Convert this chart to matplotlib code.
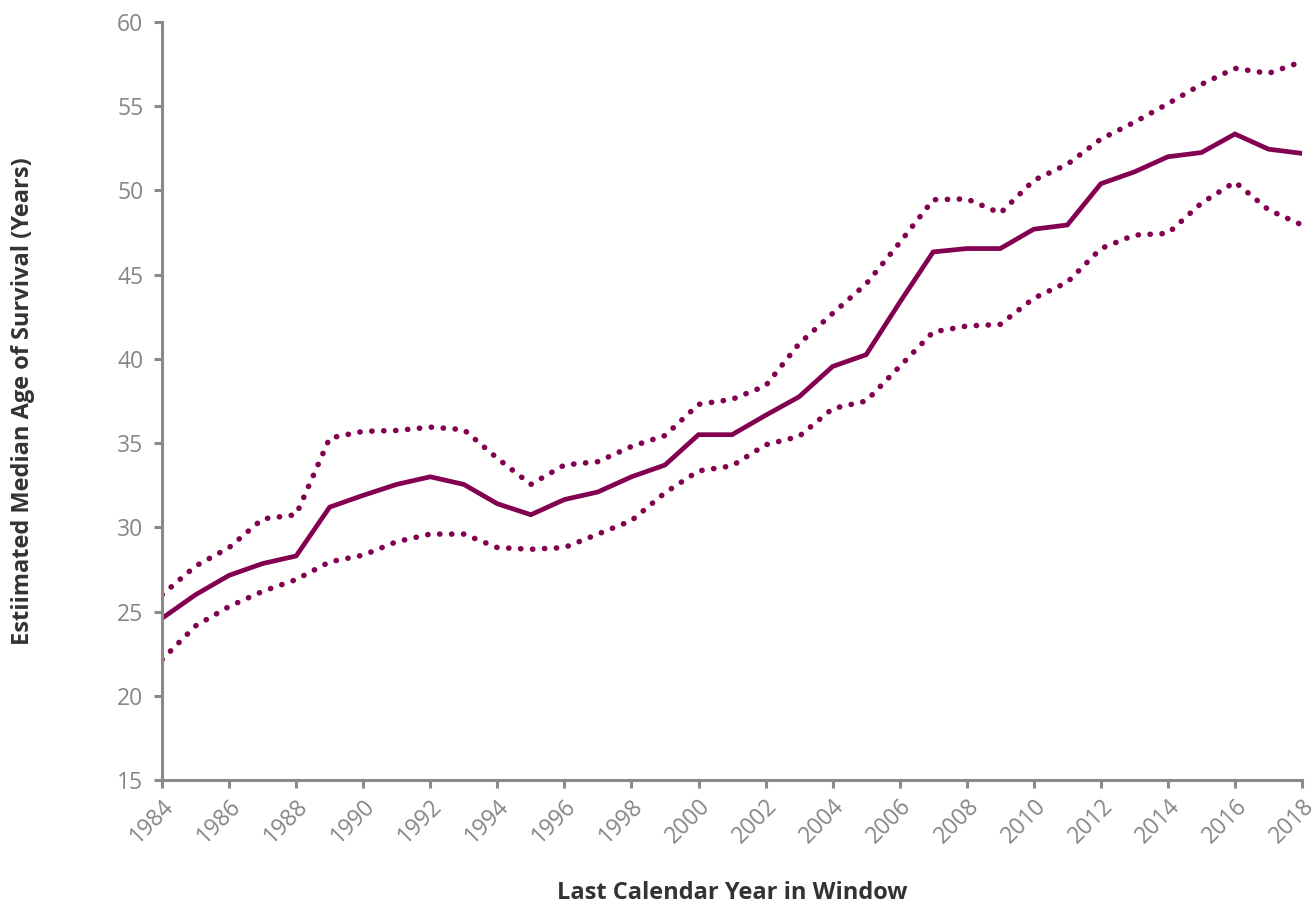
import matplotlib.pyplot as plt

# Data
years = list(range(1984, 2019))
median = [24.6, 26.0, 27.15, 27.85, 28.3, 31.2, 31.9, 32.55, 33.0, 32.55,
          31.4, 30.75, 31.65, 32.1, 33.0, 33.7, 35.5, 35.5, 36.65, 37.75,
          39.55, 40.25, 43.35, 46.35, 46.55, 46.55, 47.7, 47.95, 50.4, 51.1,
          52.0, 52.25, 53.35, 52.45, 52.2]
upper = [26.0, 27.7, 28.8, 30.5, 30.75, 35.3, 35.7, 35.75, 35.95, 35.8,
         34.1, 32.55, 33.7, 33.9, 34.8, 35.45, 37.3, 37.6, 38.4, 40.9,
         42.7, 44.45, 46.9, 49.45, 49.5, 48.65, 50.6, 51.55, 53.05, 54.05,
         55.15, 56.3, 57.25, 56.95, 57.65]
lower = [22.15, 24.15, 25.3, 26.2, 26.9, 27.95, 28.35, 29.15, 29.6, 29.6,
         28.8, 28.7, 28.8, 29.6, 30.4, 32.05, 33.35, 33.65, 34.9, 35.4,
         37.05, 37.5, 39.55, 41.6, 41.95, 42.05, 43.6, 44.55, 46.55, 47.35,
         47.45, 49.25, 50.5, 48.85, 47.95]
xticks = list(range(1984, 2019, 2))
yticks = list(range(15, 61, 5))

color = '#82004F'
grey = '#8a8a8a'
plt.rcParams['font.family'] = ['Open Sans', 'DejaVu Sans']

fig = plt.figure(figsize=(13.12, 9.09), dpi=100)
ax = fig.add_axes([0.1235, 0.1419, 0.8689, 0.8339])

# solid median line and dotted bounds
ax.plot(years, median, color=color, lw=3.4, solid_capstyle='round', solid_joinstyle='miter')
ax.plot(years, upper, color=color, lw=4.0, linestyle=(0, (0.05, 2.1)), dash_capstyle='round')
ax.plot(years, lower, color=color, lw=4.0, linestyle=(0, (0.05, 2.1)), dash_capstyle='round')

ax.set_xlim(1984, 2018)
ax.set_ylim(15, 60)
ax.set_xticks(xticks)
ax.set_yticks(yticks)
ax.set_xticklabels([str(t) for t in xticks], rotation=45, ha='right', rotation_mode='anchor')

for side in ['top', 'right']:
    ax.spines[side].set_visible(False)
for side in ['left', 'bottom']:
    ax.spines[side].set_color(grey)
    ax.spines[side].set_linewidth(2.2)
ax.tick_params(axis='both', colors=grey, labelcolor='#868686', labelsize=16.5,
               length=5.5, width=2.2, direction='out')
ax.tick_params(axis='y', pad=8)
ax.tick_params(axis='x', pad=5)

ax.set_xlabel('Last Calendar Year in Window', fontsize=17, fontweight='bold',
              color='#333333')
ax.set_ylabel('Estiimated Median Age of Survival (Years)', fontsize=17,
              fontweight='bold', color='#333333')
ax.xaxis.set_label_coords(0.5, -0.133)
ax.yaxis.set_label_coords(-0.111, 0.5)

fig.savefig('out.png', dpi=100)
